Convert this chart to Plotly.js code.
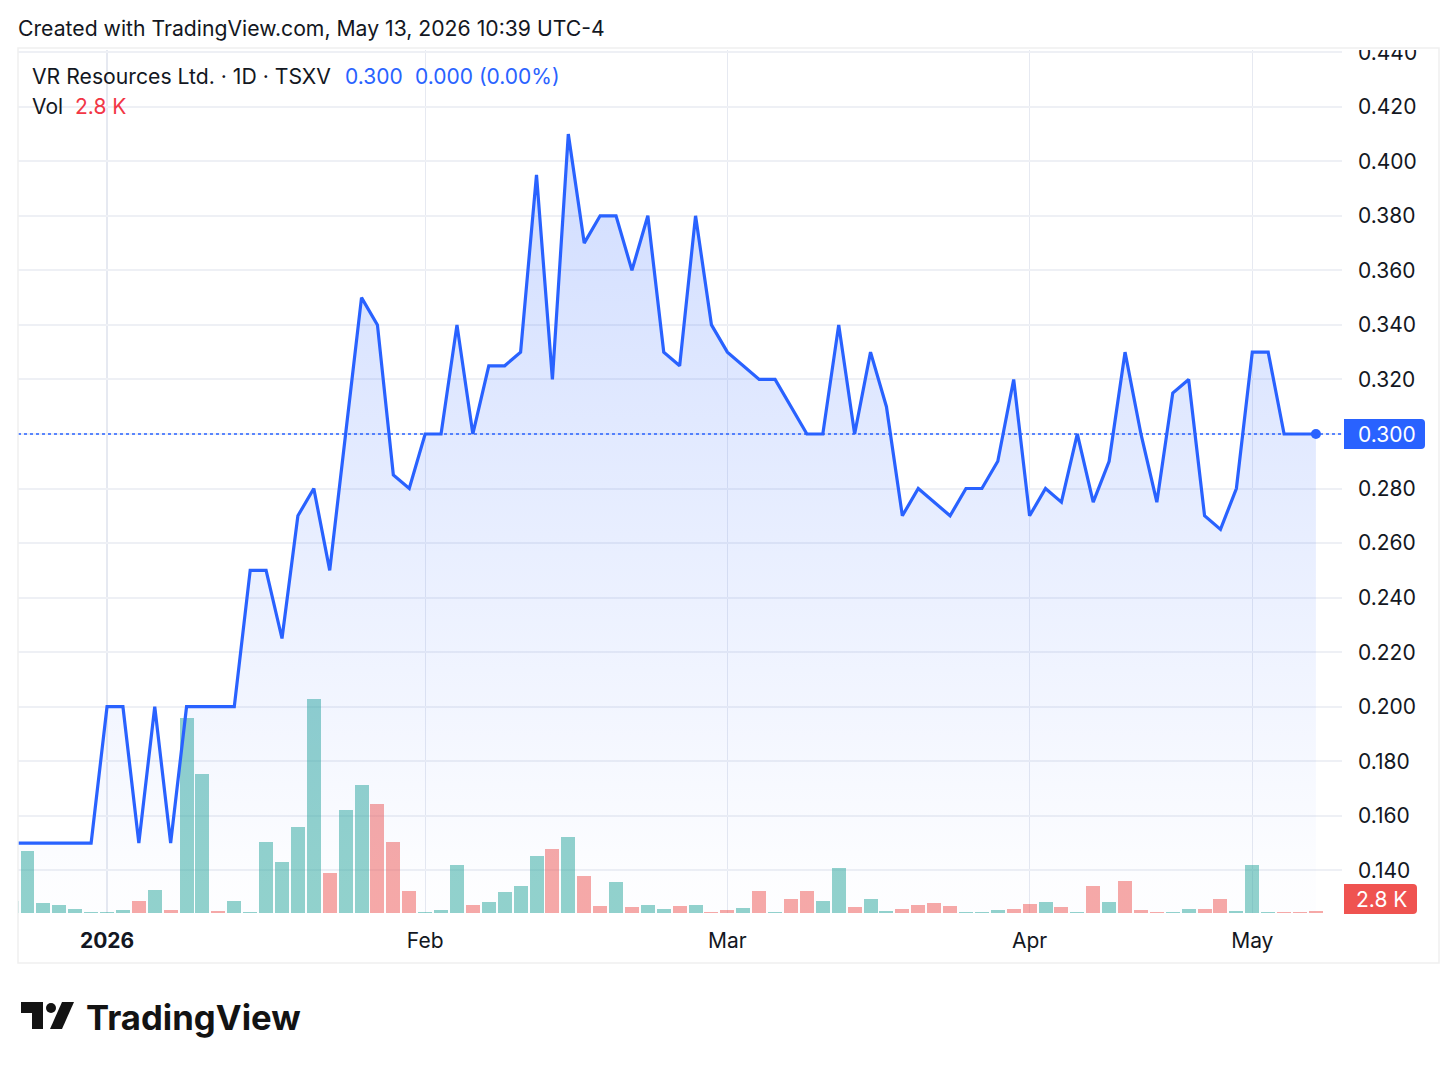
<!DOCTYPE html>
<html>
<head>
<meta charset="utf-8">
<script src="https://cdn.plot.ly/plotly-3.0.1.min.js"></script>
<style>html,body{margin:0;padding:0;background:#fff}#chart{width:1456px;height:1070px}</style>
</head>
<body>
<div id="chart"></div>
<script>
const sessionIndex = Array.from({length: 83}, (_, i) => i - 1);
const closePrice = [
  0.15,0.15,0.15,0.15,0.15,0.15,0.20,0.20,0.15,0.20,0.15,0.20,0.20,0.20,0.20,0.25,0.25,0.225,0.27,0.28,
  0.25,0.30,0.35,0.34,0.285,0.28,0.30,0.30,0.34,0.30,0.325,0.325,0.33,0.395,0.32,0.41,0.37,0.38,0.38,0.36,
  0.38,0.33,0.325,0.38,0.34,0.33,0.325,0.32,0.32,0.31,0.30,0.30,0.34,0.30,0.33,0.31,0.27,0.28,0.275,0.27,
  0.28,0.28,0.29,0.32,0.27,0.28,0.275,0.30,0.275,0.29,0.33,0.30,0.275,0.315,0.32,0.27,0.265,0.28,0.33,0.33,
  0.30,0.30,0.30];
const volumeK = [
  14,75,12,10,4.4,1.2,1.2,3.2,15,28,3.6,235,167,2.4,14,1.2,86,61,104,257,
  48,124,154,131,86,27,1.2,3.2,58,10,13,25,32,69,77,92,44,8.8,37,6.8,
  10,4.4,8,9.2,1.2,3.6,5.6,26,1.6,16.4,27,15,54,6.8,16.4,2.4,4.4,10,12,8,
  1.2,1.2,4,4.8,10.4,13.6,7.2,1.6,32,13.6,38,3.6,1.6,1.6,4.8,4.8,17,2,58,1.6,
  1.6,1.6,2.8];
const volumeDir = ("uuuuuuuudu" + "duuduuuuuu" + "duuddduuud" + "uuuududdud" + "uududdudud" +
                   "duuduudddd" + "uuuddududu" + "ddduudduuu" + "ddd").split("");
const tickIndex = [5, 25, 44, 63, 77];
const tickLabels = ["<b>2026</b>", "Feb", "Mar", "Apr", "May"];
const lastPrice = 0.30;
const lastIndex = 81;

const W = 1456, H = 1070, L = 18, R = 1342, T = 50, B = 913;
const px = v => (v - L) / (R - L);
const py = v => (B - v) / (B - T);
const FONT = "Inter, sans-serif";
const INK = "#131722", BLUE = "#2962ff", RED = "#ef5350";

function roundedTag(x0, x1, y0, y1, r, color) {
  const P = (x, y) => px(x) + "," + py(y);
  return {type: "path", xref: "paper", yref: "paper", layer: "above", fillcolor: color, line: {width: 0},
    path: "M" + P(x0, y0) + " L" + P(x1 - r, y0) + " Q" + P(x1, y0) + " " + P(x1, y0 + r) +
          " L" + P(x1, y1 - r) + " Q" + P(x1, y1) + " " + P(x1 - r, y1) + " L" + P(x0, y1) + " Z"};
}
function polygon(points, color) {
  return {type: "path", xref: "paper", yref: "paper", layer: "above", fillcolor: color, line: {width: 0},
    path: points.map((p, i) => (i ? "L" : "M") + px(p[0]) + "," + py(p[1])).join(" ") + " Z"};
}
function label(text, x, y, size, color, anchor, font) {
  return {text, xref: "paper", yref: "paper", x: px(x), y: py(y), xanchor: anchor || "left", yanchor: "middle",
    showarrow: false, font: {family: font || FONT, size, color}, borderpad: 0};
}

const traces = [
  {type: "bar", x: sessionIndex, y: volumeK, xaxis: "x", yaxis: "y", width: 0.88, hoverinfo: "skip",
   marker: {color: volumeDir.map(d => d === "u" ? "rgba(38,166,154,0.5)" : "rgba(239,83,80,0.5)"), line: {width: 0}}},
  {type: "scatter", mode: "lines", x: sessionIndex, y: closePrice, xaxis: "x", yaxis: "y2", hoverinfo: "skip",
   line: {color: BLUE, width: 3.2, shape: "linear"}, fill: "tozeroy",
   fillgradient: {type: "vertical", start: 0.41, stop: 0.135,
     colorscale: [[0, "rgba(41,98,255,0.22)"], [1, "rgba(41,98,255,0.01)"]]}},
  {type: "scatter", mode: "markers", x: [lastIndex], y: [lastPrice], xaxis: "x", yaxis: "y2", hoverinfo: "skip",
   marker: {color: BLUE, size: 10}}
];

const layout = {
  width: W, height: H, showlegend: false, paper_bgcolor: "#fff", plot_bgcolor: "#fff", bargap: 0,
  margin: {l: L, r: W - R, t: T, b: H - B, pad: 0},
  font: {family: FONT, color: INK},
  xaxis: {range: [-0.597, 82.64], tickvals: tickIndex, ticktext: tickLabels, tickmode: "array", ticks: "",
    showgrid: true, gridcolor: "#e6e9f1", gridwidth: 1.2, zeroline: false, showline: false,
    ticklabelstandoff: 13, tickfont: {family: FONT, size: 21, color: INK}},
  yaxis: {range: [0, 1038], visible: false, fixedrange: true},
  yaxis2: {range: [0.12435, 0.4408], overlaying: "y", side: "right", dtick: 0.02, tick0: 0, tickformat: ".3f",
    ticks: "", showgrid: true, gridcolor: "#eef0f5", gridwidth: 2, zeroline: false, showline: false,
    ticklabelstandoff: 15, tickfont: {family: FONT, size: 21, color: INK}},
  shapes: [
    {type: "line", xref: "paper", yref: "y2", x0: 0, x1: 1, y0: lastPrice, y1: lastPrice, layer: "above",
     line: {color: BLUE, width: 1.6, dash: "dot"}},
    {type: "rect", xref: "paper", yref: "paper", layer: "above", x0: px(0), x1: px(W), y0: py(T), y1: py(0),
     fillcolor: "#fff", line: {width: 0}},
    {type: "rect", xref: "paper", yref: "paper", layer: "above", x0: px(18), x1: px(1439), y0: py(48), y1: py(963),
     fillcolor: "rgba(0,0,0,0)", line: {color: "#f0f0f0", width: 1.5}},
    roundedTag(1344, 1425, 419, 449, 4, BLUE),
    roundedTag(1344, 1417, 884, 914, 4, RED),
    polygon([[21,1002],[43,1002],[43,1029],[32,1029],[32,1013],[21,1013]], "#131313"),
    polygon([[62,1002],[74,1002],[62,1029],[50,1029]], "#131313"),
    {type: "circle", xref: "paper", yref: "paper", layer: "above", x0: px(46), x1: px(56), y0: py(1013), y1: py(1003),
     fillcolor: "#131313", line: {width: 0}}
  ],
  annotations: [
    label("Created with TradingView.com, May 13, 2026 10:39 UTC-4", 17, 28, 21.2, "#131722"),
    label("VR Resources Ltd. · 1D · TSXV", 31, 76, 21.2, INK),
    label("0.300", 344, 76, 21, BLUE),
    label("0.000 (0.00%)", 414, 76, 21, BLUE),
    label("Vol", 31, 106, 21, INK),
    label("2.8 K", 74, 106, 21, "#f23645"),
    label("0.300", 1387, 434, 21, "#fff", "center"),
    label("2.8 K", 1381, 899, 21, "#fff", "center"),
    label("<b>TradingView</b>", 85, 1017, 34.7, "#131313", "left")
  ]
};

Plotly.newPlot("chart", traces, layout, {displayModeBar: false, staticPlot: true});
</script>
</body>
</html>
